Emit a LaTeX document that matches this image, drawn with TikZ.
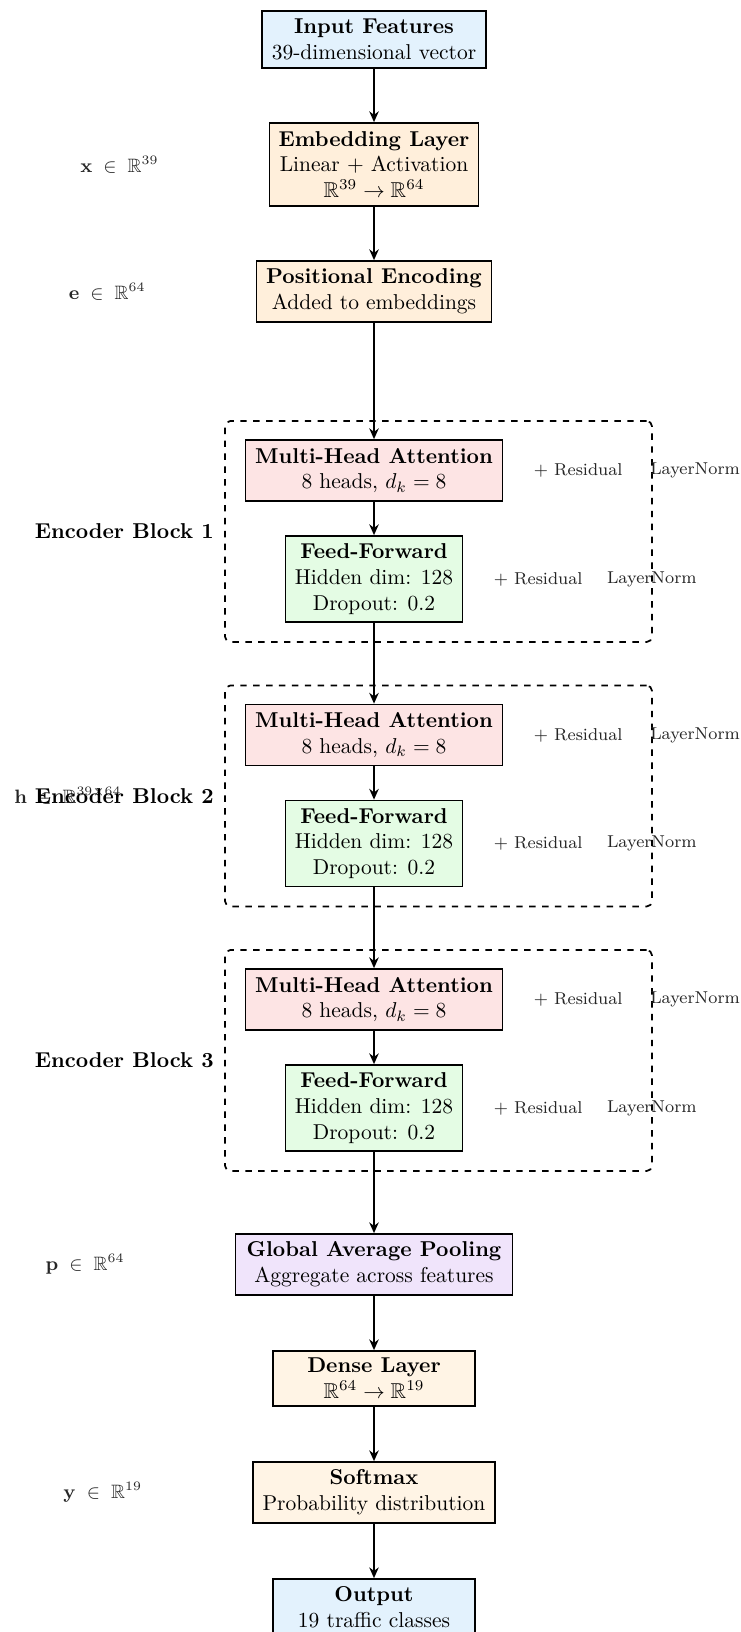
\documentclass[tikz,border=0pt]{standalone}
\usepackage{amsmath,amssymb}
\usetikzlibrary{arrows.meta,positioning,fit}

% lengths are given in drawing units (1 unit = 0.4651pt)
\newcommand{\pxl}[1]{#1*0.4651pt}

\definecolor{ioblue}{HTML}{E3F2FD}
\definecolor{embpeach}{HTML}{FFEFDB}
\definecolor{headpeach}{HTML}{FFF4E5}
\definecolor{attnpink}{HTML}{FDE4E4}
\definecolor{ffgreen}{HTML}{E4FCE4}
\definecolor{poolviolet}{HTML}{F0E4FB}

\begin{document}
\begin{tikzpicture}[
  x=0.4651pt, y=-0.4651pt,
  layer/.style={draw=black, thick, align=center, inner sep=0pt},
  flow/.style={thick, -{Stealth[length=5pt, width=4.4pt]}},
  dimlabel/.style={font=\small, text=black!85, inner sep=0pt},
  sidenote/.style={font=\footnotesize, text=black!85, inner sep=0pt},
  blockframe/.style={draw=black, thick, dashed, rounded corners=2.5pt, inner sep=0pt},
  blocktitle/.style={font=\bfseries, inner sep=0pt}
]
\useasboundingbox (0,0) rectangle (740,1632);

% input and embedding stage
\node[layer, fill=ioblue, minimum width=\pxl{224}, minimum height=\pxl{57}] (inp) at (374,39.5)
  {\textbf{Input Features}\\39-dimensional vector};
\node[layer, fill=embpeach, minimum width=\pxl{209}, minimum height=\pxl{83}] (emb) at (374,164.5)
  {\textbf{Embedding Layer}\\Linear + Activation\\$\mathbb{R}^{39} \to \mathbb{R}^{64}$};
\node[layer, fill=embpeach, minimum width=\pxl{235}, minimum height=\pxl{61}] (pos) at (374,291.5)
  {\textbf{Positional Encoding}\\Added to embeddings};

\node[dimlabel, left=51pt of emb] (xlab) {$\mathbf{x} \;\in\; \mathbb{R}^{39}$};
\node[dimlabel, left=51pt of pos] (elab) {$\mathbf{e} \;\in\; \mathbb{R}^{64}$};

% three stacked encoder blocks
\foreach \i/\dy in {1/0, 2/264.5, 3/529} {
  \node[layer, fill=attnpink, minimum width=\pxl{257}, minimum height=\pxl{61}] (mha\i) at (374,470.5+\dy)
    {\textbf{Multi-Head Attention}\\8 heads, $d_k = 8$};
  \node[layer, fill=ffgreen, minimum width=\pxl{177}, minimum height=\pxl{86}] (ff\i) at (374,579+\dy)
    {\textbf{Feed-Forward}\\Hidden dim: 128\\Dropout: 0.2};
  \node[blockframe, fit={(225,421+\dy) (652,642+\dy)}] (blk\i) {};
  \node[sidenote, right=14pt of mha\i] (resa\i) {$+$ Residual};
  \node[sidenote, right=12.5pt of resa\i] (lna\i) {LayerNorm};
  \node[sidenote, right=14pt of ff\i] (resb\i) {$+$ Residual};
  \node[sidenote, right=11pt of resb\i] (lnb\i) {LayerNorm};
  \draw[flow] (mha\i) -- (ff\i);
}

\node[dimlabel, left=47.5pt of blk2] (hlab) {$\mathbf{h} \;\in\; \mathbb{R}^{39\times 64}$};
\foreach \i in {1,2,3}
  \node[blocktitle, left=4.6pt of blk\i] (title\i) {Encoder Block \i};

% pooling and classification head
\node[layer, fill=poolviolet, minimum width=\pxl{277}, minimum height=\pxl{61}] (pool) at (374,1264.5)
  {\textbf{Global Average Pooling}\\Aggregate across features};
\node[layer, fill=headpeach, minimum width=\pxl{202}, minimum height=\pxl{55}] (dense) at (374,1378.5)
  {\textbf{Dense Layer}\\$\mathbb{R}^{64} \to \mathbb{R}^{19}$};
\node[layer, fill=headpeach, minimum width=\pxl{242}, minimum height=\pxl{61}] (soft) at (374,1492.5)
  {\textbf{Softmax}\\Probability distribution};
\node[layer, fill=ioblue, minimum width=\pxl{202}, minimum height=\pxl{57}] (outp) at (374,1607.5)
  {\textbf{Output}\\19 traffic classes};

\node[dimlabel, left=51pt of pool] (plab) {$\mathbf{p} \;\in\; \mathbb{R}^{64}$};
\node[dimlabel, left=51pt of soft] (ylab) {$\mathbf{y} \;\in\; \mathbb{R}^{19}$};

% data flow
\draw[flow] (inp) -- (emb);
\draw[flow] (emb) -- (pos);
\draw[flow] (pos) -- (mha1);
\draw[flow] (ff1) -- (mha2);
\draw[flow] (ff2) -- (mha3);
\draw[flow] (ff3) -- (pool);
\draw[flow] (pool) -- (dense);
\draw[flow] (dense) -- (soft);
\draw[flow] (soft) -- (outp);
\end{tikzpicture}
\end{document}
